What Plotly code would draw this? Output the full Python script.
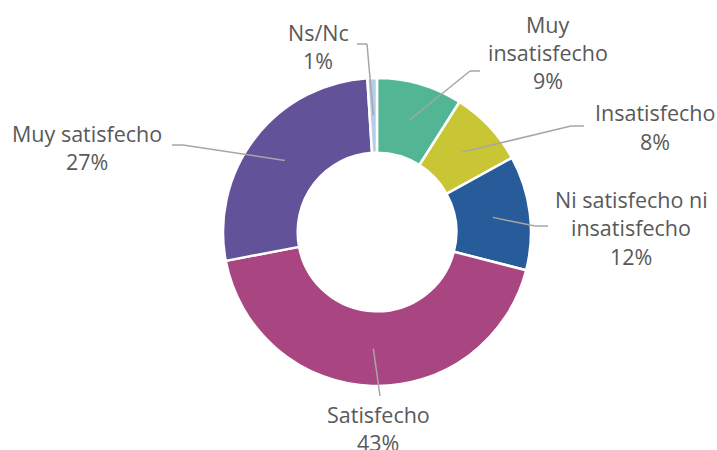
import math
import plotly.graph_objects as go

# ---- data ----
categories = ["Muy insatisfecho", "Insatisfecho", "Ni satisfecho ni insatisfecho",
              "Satisfecho", "Muy satisfecho", "Ns/Nc"]
values = [9, 8, 12, 43, 27, 1]
label_lines = [["Muy", "insatisfecho", "9%"],
               ["Insatisfecho", "8%"],
               ["Ni satisfecho ni", "insatisfecho", "12%"],
               ["Satisfecho", "43%"],
               ["Muy satisfecho", "27%"],
               ["Ns/Nc", "1%"]]

# ---- styles / layout ----
colors = ["#52b593", "#c8c634", "#275b99", "#a94682", "#61529a", "#b4cde8"]
W, H = 717, 450
CX, CY, R_OUT, HOLE = 377, 232, 154, 0.515
R_MID = R_OUT * (1 + HOLE) / 2
TEXT_COLOR = "#595959"
LINE_COLOR = "#a6a6a6"
FONT = "Open Sans"
FS = 21.5
LINE_H = 28.5
# label block: (x center, y of first line center) in pixels
label_pos = [(548, 24), (655, 113), (631, 199), (378, 414), (87, 133), (318, 32)]
# leader line: elbow points (pixel) from label side toward slice
leader_elbow = [[(480, 71), (470, 71)],
                [(584, 126), (571, 126)],
                [(548, 226), (535, 226)],
                [(380, 396)],
                [(172, 145), (183, 145)],
                [(357, 44), (367, 44)]]


def px(x):
    return x / W


def py(y):
    return 1 - y / H


fig = go.Figure(go.Pie(
    labels=categories, values=values, sort=False, direction="clockwise",
    rotation=0, hole=HOLE, textinfo="none", hoverinfo="label+percent",
    marker=dict(colors=colors, line=dict(color="white", width=2.5)),
    domain=dict(x=[px(CX - R_OUT), px(CX + R_OUT)], y=[py(CY + R_OUT), py(CY - R_OUT)]),
    showlegend=False,
))

total = sum(values)
cum = 0
shapes = []
annotations = []
for i, v in enumerate(values):
    theta = 2 * math.pi * (cum + v / 2) / total
    cum += v
    ex = CX + R_MID * math.sin(theta)
    ey = CY - R_MID * math.cos(theta)
    pts = leader_elbow[i] + [(ex, ey)]
    for (x0, y0), (x1, y1) in zip(pts[:-1], pts[1:]):
        shapes.append(dict(type="line", xref="paper", yref="paper",
                           x0=px(x0), y0=py(y0), x1=px(x1), y1=py(y1),
                           line=dict(color=LINE_COLOR, width=1.5)))
    lx, ly = label_pos[i]
    for j, t in enumerate(label_lines[i]):
        annotations.append(dict(text=t, x=px(lx), y=py(ly + j * LINE_H),
                                xref="paper", yref="paper", showarrow=False,
                                xanchor="center", yanchor="middle",
                                font=dict(family=FONT, size=FS, color=TEXT_COLOR)))

fig.update_layout(width=W, height=H, margin=dict(l=0, r=0, t=0, b=0),
                  paper_bgcolor="white", plot_bgcolor="white",
                  shapes=shapes, annotations=annotations)
fig.write_html("out.html", config={"displayModeBar": False},
               post_script="document.body.style.margin='0';document.body.style.overflow='hidden';")
